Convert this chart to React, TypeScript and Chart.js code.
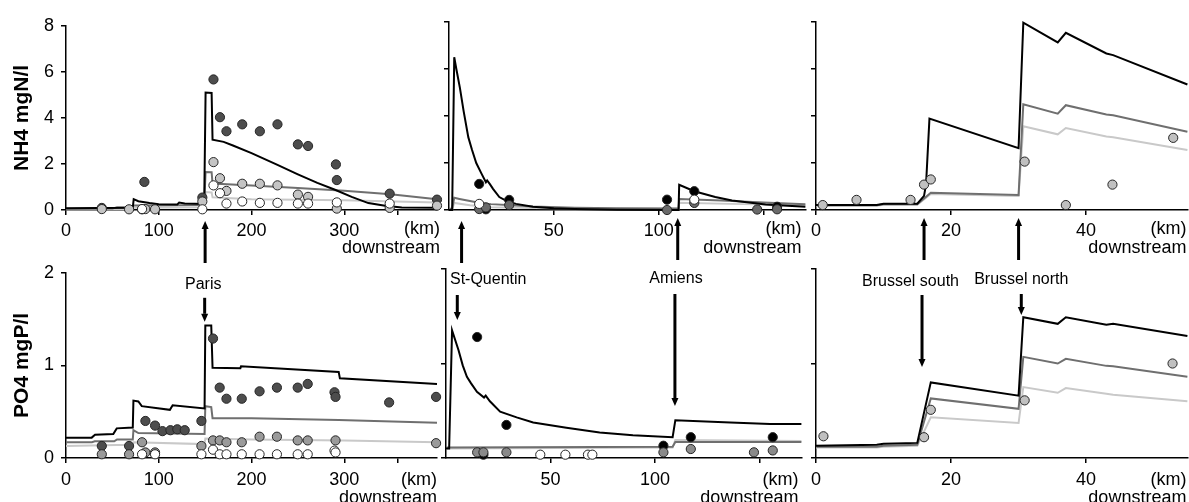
import React, { useEffect, useRef } from 'react';
import { Chart, registerables } from 'chart.js';

Chart.register(...registerables);
Chart.defaults.font.family = '"Liberation Sans", Arial, Helvetica, sans-serif';

type Pt = [number, number];

// ---------------- Seine : NH4 (km, mgN/l) ----------------
const seineNh4ModelA: Pt[] = [[0,0.08],[72,0.1],[73,0.47],[78,0.38],[90,0.3],[100,0.25],[120,0.24],[122,0.32],[128,0.28],[149,0.26],[150.5,5.1],[157,5.08],[158,3.05],[170,2.96],[180,2.8],[200,2.47],[228,1.96],[250,1.55],[271,1.18],[290,0.88],[308,0.57],[326,0.3],[344,0.18],[362,0.11],[400,0.1]];
const seineNh4ModelB: Pt[] = [[0,0.05],[50,0.06],[55,0.12],[72,0.13],[73,0.2],[149,0.22],[150.5,1.65],[157,1.64],[158,1.15],[200,1.06],[250,0.96],[300,0.84],[350,0.68],[400,0.47]];
const seineNh4ModelC: Pt[] = [[0,0.03],[72,0.04],[73,0.1],[149,0.12],[150.5,0.78],[157,0.76],[158,0.55],[200,0.47],[300,0.42],[400,0.33]];
const seineNh4ObsDark: Pt[] = [[38.6,0.09],[84.5,1.22],[147,0.54],[159,5.67],[166,4.03],[173,3.42],[190,3.72],[209,3.42],[228,3.72],[250,2.85],[261,2.78],[291,1.98],[292,1.3],[349,0.71],[400,0.45]];
const seineNh4ObsLight: Pt[] = [[38.6,0.04],[68,0.03],[82,0.03],[85.5,0.04],[96,0.03],[147,0.37],[159,2.08],[166,1.38],[173,0.83],[190,1.14],[209,1.14],[228,1.07],[250,0.67],[261,0.57],[292,0.06],[349,0.09],[400,0.19]];
const seineNh4ObsWhite: Pt[] = [[82,0.04],[147,0.03],[159,1.07],[166,0.73],[173,0.28],[190,0.37],[209,0.31],[228,0.31],[250,0.28],[261,0.28],[292,0.33],[349,0.28]];

// ---------------- Somme : NH4 ----------------
const sommeNh4ModelA: Pt[] = [[0,0],[1.5,0],[2.5,6.5],[3.5,6.0],[5.2,5.2],[7,4.2],[9.2,3.1],[11,2.55],[13,2.0],[15.5,1.55],[17.6,1.18],[18.2,1.26],[19.5,1.1],[21,0.9],[24,0.55],[28,0.36],[32,0.26],[40,0.14],[50,0.07],[60,0.04],[80,0.01],[109.5,0],[109.8,1.07],[117,0.8],[127,0.55],[135,0.4],[151,0.23],[170,0.14]];
const sommeNh4ModelB: Pt[] = [[0,0.05],[1.5,0.05],[2.5,0.52],[5,0.47],[10,0.38],[15,0.3],[20,0.25],[30,0.2],[40,0.15],[60,0.1],[80,0.07],[109.5,0.06],[109.8,0.47],[130,0.4],[150,0.32],[170,0.24]];
const sommeNh4ModelC: Pt[] = [[0,0.02],[1.5,0.02],[2.5,0.3],[10,0.2],[20,0.12],[40,0.08],[80,0.05],[109.5,0.05],[109.8,0.31],[140,0.25],[170,0.2]];
const sommeNh4ObsBlack: Pt[] = [[14.4,1.11],[17.6,0.03],[28.7,0.43],[104,0.44],[117,0.8],[156.5,0.14]];
const sommeNh4ObsGray: Pt[] = [[14.4,0.04],[17.6,0.11],[28.7,0.21],[104,0.0],[117,0.3],[147,0.02],[156.5,0.03]];
const sommeNh4ObsWhite: Pt[] = [[14.4,0.26],[117,0.44]];

// ---------------- Senne : NH4 ----------------
const senneNh4ModelA: Pt[] = [[0,0.21],[9,0.21],[10,0.27],[15,0.27],[16,0.6],[16.3,1.1],[16.8,3.89],[30,2.63],[30.7,7.97],[35.8,7.13],[37,7.54],[43,6.66],[44,6.59],[55,5.34]];
const senneNh4ModelB: Pt[] = [[0,0.2],[9,0.2],[10,0.24],[15,0.24],[17,0.73],[30,0.64],[30.7,4.5],[35.8,4.1],[37,4.46],[43,4.06],[44,4.03],[55,3.33]];
const senneNh4ModelC: Pt[] = [[0,0.18],[9,0.18],[10,0.22],[15,0.22],[17,0.68],[30,0.6],[30.7,3.56],[35.8,3.22],[37,3.49],[43,3.13],[44,3.1],[55,2.55]];
const senneNh4Obs: Pt[] = [[1,0.21],[6,0.43],[14,0.43],[16,1.08],[17,1.3],[30.9,2.06],[37,0.21],[43.9,1.08],[52.9,3.07]];

// ---------------- Seine : PO4 (km, mgP/l) ----------------
const seinePo4ModelA: Pt[] = [[0,0.22],[27.7,0.22],[31.3,0.25],[51,0.26],[54.7,0.32],[72,0.33],[72.7,0.62],[78,0.61],[81.7,0.56],[112,0.52],[115,0.57],[149.4,0.535],[150.2,1.43],[156.6,1.43],[158,0.975],[188,0.97],[188.7,0.99],[294,0.93],[295.3,0.86],[400,0.8]];
const seinePo4ModelB: Pt[] = [[0,0.17],[28,0.17],[31,0.18],[52,0.18],[55,0.2],[72,0.2],[72.7,0.3],[78,0.27],[149.4,0.26],[150.2,0.56],[156.6,0.55],[158,0.43],[200,0.43],[294,0.41],[400,0.38]];
const seinePo4ModelC: Pt[] = [[0,0.13],[55,0.14],[72,0.14],[72.7,0.17],[149.4,0.15],[150.2,0.21],[200,0.2],[300,0.19],[400,0.17]];
const seinePo4ObsDark: Pt[] = [[38.6,0.13],[68,0.13],[85.6,0.4],[96,0.35],[104,0.29],[112.6,0.3],[120,0.31],[128,0.3],[146,0.4],[158.5,1.29],[165.7,0.76],[173,0.64],[189.5,0.64],[208.7,0.72],[227.4,0.76],[249.8,0.76],[260.6,0.8],[289.5,0.71],[290.6,0.66],[348.4,0.6],[399,0.66]];
const seinePo4ObsMid: Pt[] = [[38.6,0.04],[68,0.04],[82,0.17],[85.6,0.06],[96,0.06],[146,0.13],[158.5,0.19],[165.7,0.19],[173,0.17],[189.5,0.17],[208.7,0.23],[227.4,0.23],[249.8,0.19],[260.6,0.19],[290.6,0.19],[399,0.16]];
const seinePo4ObsWhite: Pt[] = [[82,0.04],[96,0.04],[146,0.04],[158.5,0.09],[165.7,0.04],[173,0.04],[189.5,0.04],[208.7,0.04],[227.4,0.04],[249.8,0.04],[260.6,0.04],[289.5,0.08],[290.6,0.06]];

// ---------------- Somme : PO4 ----------------
const sommePo4ModelA: Pt[] = [[0,0.1],[1.5,0.1],[2.9,1.35],[6,1.14],[8,0.98],[10,0.86],[12,0.79],[14.8,0.7],[18.2,0.64],[19,0.66],[21,0.6],[25.9,0.49],[33.8,0.43],[41.7,0.375],[57.6,0.32],[73.5,0.27],[89.4,0.24],[108.4,0.22],[109.7,0.4],[136,0.375],[155,0.36],[170,0.36]];
const sommePo4ModelB: Pt[] = [[0,0.11],[108.4,0.12],[109.7,0.17],[170,0.17]];
const sommePo4ModelC: Pt[] = [[0,0.1],[108.4,0.11],[109.7,0.19],[170,0.18]];
const sommePo4ObsBlack: Pt[] = [[14.9,1.28],[17.9,0.035],[28.9,0.35],[104,0.13],[117.1,0.22],[156.3,0.22]];
const sommePo4ObsGray: Pt[] = [[14.9,0.06],[17.9,0.06],[28.9,0.06],[104,0.06],[117.1,0.095],[147.3,0.06],[156.3,0.08]];
const sommePo4ObsWhite: Pt[] = [[45.1,0.035],[57.1,0.035],[67.9,0.035],[70,0.035]];

// ---------------- Senne : PO4 ----------------
const sennePo4ModelA: Pt[] = [[0,0.13],[9,0.14],[10,0.15],[15,0.16],[17,0.8],[30,0.66],[30.7,1.49],[35.8,1.42],[37,1.49],[43,1.41],[44,1.42],[55,1.29]];
const sennePo4ModelB: Pt[] = [[0,0.12],[9,0.12],[10,0.13],[15,0.14],[17,0.63],[30,0.52],[30.7,1.07],[35.8,1.0],[37,1.05],[43,0.975],[44,0.97],[55,0.86]];
const sennePo4ModelC: Pt[] = [[0,0.11],[9,0.11],[10,0.12],[15,0.13],[17,0.43],[30,0.37],[30.7,0.75],[35.8,0.69],[37,0.74],[43,0.68],[44,0.67],[55,0.6]];
const sennePo4Obs: Pt[] = [[1.1,0.23],[16,0.22],[17,0.51],[30.9,0.61],[52.8,1.0]];

// ---------------- ticks & texts ----------------
const seineXTicks = [0, 100, 200, 300, 358];
const seineXLabels = [0, 100, 200, 300];
const sommeXTicks = [50, 100, 150];
const sommeXLabels = [50, 100];
const senneXTicks = [0, 20, 40];
const senneXLabels = [0, 20, 40];
const nh4YTicks = [0, 2, 4, 6, 8];
const po4YTicks = [0, 1, 2];
const nh4Title = 'NH4 mgN/l';
const po4Title = 'PO4 mgP/l';
const kmText = '(km)';
const downText = 'downstream';
const siteNames = ['Paris', 'St-Quentin', 'Amiens', 'Brussel south', 'Brussel north'];

// ---------------- styles ----------------
const C_BLACK = '#000000';
const C_DARK = '#6f6f6f';
const C_LIGHT = '#c9c9c9';

type Series = { data: Pt[]; color: string };
type Arrow = { km: number; y1: number; y2: number };
type Label = { text: string; km: number; dy: number; align: CanvasTextAlign };
type Spec = {
  left: number; right: number; top: number; bottom: number;
  yw: number; padTop: number; padRight: number; xh: number;
  xMax: number; xTicks: number[]; xLabels: number[]; xPad: number;
  yMax: number; yTicks: number[]; yLabels: boolean;
  yTitle?: string; yTitleX?: number;
  kmDx: number; kmDy: number; dsDy: number;
  lines: Series[]; points: Series[];
  upArrows: Arrow[]; downArrows: Arrow[]; labels: Label[];
};

const TOP = { top: 22, bottom: 210, padTop: 14, xh: 60, xPad: 5, kmDy: 24, dsDy: 43 };
const BOT = { top: 269, bottom: 458, padTop: 14, xh: 44, xPad: 6, kmDy: 27, dsDy: 45 };

const specs: Spec[] = [
  {
    ...TOP, left: 66, right: 437, yw: 66, padRight: 8,
    xMax: 400, xTicks: seineXTicks, xLabels: seineXLabels,
    yMax: 8, yTicks: nh4YTicks, yLabels: true, yTitle: nh4Title, yTitleX: 22,
    kmDx: 3,
    lines: [{ data: seineNh4ModelA, color: C_BLACK }, { data: seineNh4ModelB, color: C_DARK }, { data: seineNh4ModelC, color: C_LIGHT }],
    points: [{ data: seineNh4ObsWhite, color: '#ffffff' }, { data: seineNh4ObsLight, color: '#c4c4c4' }, { data: seineNh4ObsDark, color: '#4d4d4d' }],
    upArrows: [{ km: 150, y1: 11, y2: 53 }], downArrows: [], labels: [],
  },
  {
    ...TOP, left: 449, right: 807, yw: 12, padRight: 4,
    xMax: 170, xTicks: sommeXTicks, xLabels: sommeXLabels,
    yMax: 8, yTicks: nh4YTicks, yLabels: false,
    kmDx: -4,
    lines: [{ data: sommeNh4ModelA, color: C_BLACK }, { data: sommeNh4ModelB, color: C_DARK }, { data: sommeNh4ModelC, color: C_LIGHT }],
    points: [{ data: sommeNh4ObsWhite, color: '#ffffff' }, { data: sommeNh4ObsGray, color: '#6a6a6a' }, { data: sommeNh4ObsBlack, color: '#000000' }],
    upArrows: [{ km: 6, y1: 11, y2: 53 }, { km: 109.1, y1: 8, y2: 50 }], downArrows: [], labels: [],
  },
  {
    ...TOP, left: 816, right: 1193, yw: 12, padRight: 0,
    xMax: 55, xTicks: senneXTicks, xLabels: senneXLabels,
    yMax: 8, yTicks: nh4YTicks, yLabels: false,
    kmDx: -1,
    lines: [{ data: senneNh4ModelA, color: C_BLACK }, { data: senneNh4ModelB, color: C_DARK }, { data: senneNh4ModelC, color: C_LIGHT }],
    points: [{ data: senneNh4Obs, color: '#c0c0c0' }],
    upArrows: [{ km: 16, y1: 8, y2: 50 }, { km: 30, y1: 8, y2: 50 }], downArrows: [], labels: [],
  },
  {
    ...BOT, left: 66, right: 437, yw: 66, padRight: 8,
    xMax: 400, xTicks: seineXTicks, xLabels: seineXLabels,
    yMax: 2, yTicks: po4YTicks, yLabels: true, yTitle: po4Title, yTitleX: 22,
    kmDx: 0,
    lines: [{ data: seinePo4ModelA, color: C_BLACK }, { data: seinePo4ModelB, color: C_DARK }, { data: seinePo4ModelC, color: C_LIGHT }],
    points: [{ data: seinePo4ObsWhite, color: '#ffffff' }, { data: seinePo4ObsMid, color: '#9a9a9a' }, { data: seinePo4ObsDark, color: '#4d4d4d' }],
    upArrows: [], downArrows: [{ km: 149.5, y1: 25, y2: 49 }],
    labels: [{ text: siteNames[0], km: 148, dy: 16, align: 'center' }],
  },
  {
    ...BOT, left: 446, right: 803, yw: 12, padRight: 4,
    xMax: 170, xTicks: sommeXTicks, xLabels: sommeXLabels,
    yMax: 2, yTicks: po4YTicks, yLabels: false,
    kmDx: -3,
    lines: [{ data: sommePo4ModelA, color: C_BLACK }, { data: sommePo4ModelB, color: C_DARK }, { data: sommePo4ModelC, color: C_LIGHT }],
    points: [{ data: sommePo4ObsWhite, color: '#ffffff' }, { data: sommePo4ObsGray, color: '#8a8a8a' }, { data: sommePo4ObsBlack, color: '#000000' }],
    upArrows: [], downArrows: [{ km: 5.4, y1: 26, y2: 51 }, { km: 109.5, y1: 25, y2: 137 }],
    labels: [{ text: siteNames[1], km: 1.9, dy: 15, align: 'left' }, { text: siteNames[2], km: 110, dy: 14, align: 'center' }],
  },
  {
    ...BOT, left: 816, right: 1193, yw: 12, padRight: 0,
    xMax: 55, xTicks: senneXTicks, xLabels: senneXLabels,
    yMax: 2, yTicks: po4YTicks, yLabels: false,
    kmDx: -1,
    lines: [{ data: sennePo4ModelA, color: C_BLACK }, { data: sennePo4ModelB, color: C_DARK }, { data: sennePo4ModelC, color: C_LIGHT }],
    points: [{ data: sennePo4Obs, color: '#c0c0c0' }],
    upArrows: [], downArrows: [{ km: 15.7, y1: 26, y2: 98 }, { km: 30.4, y1: 25, y2: 46 }],
    labels: [{ text: siteNames[3], km: 14, dy: 17, align: 'center' }, { text: siteNames[4], km: 30.4, dy: 15, align: 'center' }],
  },
];

const FONT = '"Liberation Sans", Arial, Helvetica, sans-serif';

function drawArrow(ctx: CanvasRenderingContext2D, x: number, tail: number, tip: number) {
  const dir = tip > tail ? 1 : -1;
  const head = 8;
  ctx.beginPath();
  ctx.lineWidth = 3;
  ctx.moveTo(x, tail);
  ctx.lineTo(x, tip - dir * head);
  ctx.stroke();
  ctx.beginPath();
  ctx.moveTo(x - 3.5, tip - dir * head);
  ctx.lineTo(x + 3.5, tip - dir * head);
  ctx.lineTo(x, tip);
  ctx.closePath();
  ctx.fill();
}

const decorPlugin = {
  id: 'decor',
  afterDraw(chart: any, _args: any, opts: any) {
    const spec: Spec = opts.spec;
    if (!spec) return;
    const { ctx, chartArea: a } = chart;
    const xs = chart.scales.x;
    ctx.save();
    ctx.fillStyle = '#000';
    ctx.strokeStyle = '#000';
    if (spec.yTitle) {
      ctx.save();
      ctx.translate(spec.yTitleX, (a.top + a.bottom) / 2);
      ctx.rotate(-Math.PI / 2);
      ctx.font = `bold 21px ${FONT}`;
      ctx.textAlign = 'center';
      ctx.textBaseline = 'middle';
      ctx.fillText(spec.yTitle, 0, 0);
      ctx.restore();
    }
    ctx.font = `18px ${FONT}`;
    ctx.textAlign = 'right';
    ctx.textBaseline = 'alphabetic';
    ctx.fillText(kmText, a.right + spec.kmDx, a.bottom + spec.kmDy);
    ctx.fillText(downText, a.right + spec.kmDx, a.bottom + spec.dsDy);
    for (const ar of spec.upArrows) {
      drawArrow(ctx, xs.getPixelForValue(ar.km), a.bottom + ar.y2, a.bottom + ar.y1);
    }
    for (const ar of spec.downArrows) {
      drawArrow(ctx, xs.getPixelForValue(ar.km), a.top + ar.y1, a.top + ar.y2);
    }
    ctx.font = `16px ${FONT}`;
    for (const lb of spec.labels) {
      ctx.textAlign = lb.align;
      ctx.fillText(lb.text, xs.getPixelForValue(lb.km), a.top + lb.dy);
    }
    ctx.restore();
  },
};

function makeConfig(spec: Spec): any {
  const axisGrid = { display: true, drawOnChartArea: false, drawTicks: true, tickLength: 5, color: '#000', lineWidth: 1.5 };
  const axisBorder = { display: true, color: '#000', width: 1.5 };
  const datasets: any[] = [];
  spec.points.forEach((s) => {
    datasets.push({
      type: 'scatter',
      data: s.data.map(([x, y]) => ({ x, y })),
      backgroundColor: s.color,
      borderColor: '#262626',
      borderWidth: 1,
      pointRadius: 4.6,
      showLine: false,
      clip: false,
      order: 0,
    });
  });
  spec.lines.forEach((s, i) => {
    datasets.push({
      type: 'line',
      data: s.data.map(([x, y]) => ({ x, y })),
      borderColor: s.color,
      borderWidth: 2,
      pointRadius: 0,
      fill: false,
      tension: 0,
      clip: false,
      order: i + 1,
    });
  });
  return {
    type: 'scatter',
    data: { datasets },
    plugins: [decorPlugin],
    options: {
      animation: false,
      responsive: false,
      devicePixelRatio: 1,
      events: [],
      layout: { padding: { left: 0, top: spec.padTop, right: spec.padRight, bottom: 0 } },
      plugins: { legend: { display: false }, tooltip: { enabled: false }, decor: { spec } },
      scales: {
        x: {
          type: 'linear', min: 0, max: spec.xMax,
          afterBuildTicks: (s: any) => { s.ticks = spec.xTicks.map((v) => ({ value: v })); },
          afterFit: (s: any) => { s.height = spec.xh; },
          ticks: {
            autoSkip: false, maxRotation: 0, minRotation: 0, padding: spec.xPad, color: '#000',
            font: { size: 18 },
            callback: (v: any) => (spec.xLabels.includes(Number(v)) ? String(v) : ''),
          },
          grid: axisGrid, border: axisBorder,
        },
        y: {
          type: 'linear', min: 0, max: spec.yMax,
          afterBuildTicks: (s: any) => { s.ticks = spec.yTicks.map((v) => ({ value: v })); },
          afterFit: (s: any) => { s.width = spec.yw; },
          ticks: { display: spec.yLabels, padding: 7, color: '#000', font: { size: 18 } },
          grid: axisGrid, border: axisBorder,
        },
      },
    },
  };
}

function Panel({ spec }: { spec: Spec }) {
  const ref = useRef<HTMLCanvasElement>(null);
  const w = spec.yw + (spec.right - spec.left) + spec.padRight;
  const h = spec.padTop + (spec.bottom - spec.top) + spec.xh;
  useEffect(() => {
    const chart = new Chart(ref.current as HTMLCanvasElement, makeConfig(spec));
    return () => chart.destroy();
  }, [spec]);
  return (
    <canvas
      ref={ref}
      width={w}
      height={h}
      style={{ position: 'absolute', left: spec.left - spec.yw, top: spec.top - spec.padTop, width: w, height: h }}
    />
  );
}

export default function App() {
  return (
    <div style={{ position: 'absolute', left: 0, top: 0, width: 1189, height: 502, overflow: 'hidden', background: '#fff' }}>
      {specs.map((s, i) => (
        <Panel key={i} spec={s} />
      ))}
    </div>
  );
}
